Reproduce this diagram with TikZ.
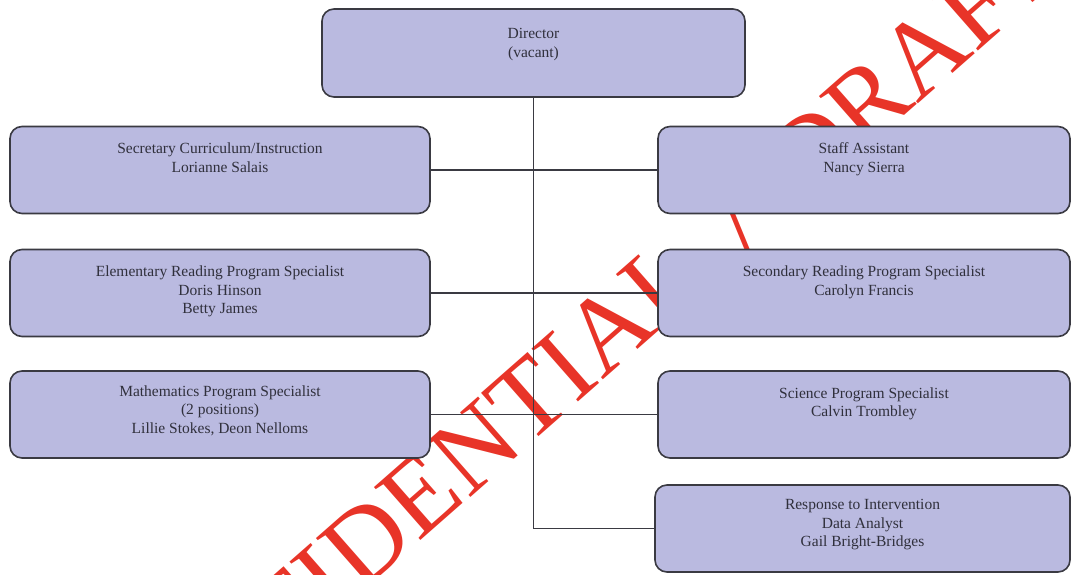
\documentclass[tikz,border=0pt]{standalone}
\usepackage{fontspec}
\setmainfont{Liberation Serif}
\definecolor{boxfill}{RGB}{186,186,224}
\definecolor{boxline}{RGB}{58,58,66}
\definecolor{ink}{RGB}{48,48,60}
\definecolor{stamp}{RGB}{232,52,40}
\pgfdeclarelayer{stamplayer}
\pgfdeclarelayer{edgelayer}
\pgfsetlayers{stamplayer,edgelayer,main}
\tikzset{
  orgbox/.style={draw=boxline, line width=1.6pt, fill=boxfill, rounded corners=12pt,
                 minimum width=420pt, minimum height=87pt, inner sep=0pt},
  orgtext/.style={anchor=north, align=center, inner sep=0pt, text=ink,
                  font=\fontsize{15.5}{18.5}\selectfont},
  link/.style={draw=boxline, line width=1.1pt}
}
\begin{document}
\begin{tikzpicture}[x=1pt,y=-1pt]
\useasboundingbox (0,0) rectangle (1072,574);

% boxes
\node[orgbox, minimum width=423pt, minimum height=88pt] (dir) at (533.5,53) {};
\node[orgbox] (sec)   at (220,170)   {};
\node[orgbox, minimum width=412pt] (staff) at (864,170)   {};
\node[orgbox] (elem)  at (220,293)   {};
\node[orgbox, minimum width=412pt] (rdg)   at (864,293) {};
\node[orgbox] (math)  at (220,414.5) {};
\node[orgbox, minimum width=412pt] (sci)   at (864,414.5)   {};
\node[orgbox, minimum width=415pt] (rti)   at (862.5,528.5) {};

% box texts
\node[orgtext] (dirT)   at ([yshift=-20pt]dir.north)   {Director\\(vacant)};
\node[orgtext] (secT)   at ([yshift=-17pt]sec.north)   {Secretary Curriculum/Instruction\\Lorianne Salais};
\node[orgtext] (staffT) at ([yshift=-17pt]staff.north) {Staff Assistant\\Nancy Sierra};
\node[orgtext] (elemT)  at ([yshift=-17pt]elem.north)  {Elementary Reading Program Specialist\\Doris Hinson\\Betty James};
\node[orgtext] (rdgT)   at ([yshift=-17pt]rdg.north)   {Secondary Reading Program Specialist\\Carolyn Francis};
\node[orgtext] (mathT)  at ([yshift=-15pt]math.north)  {Mathematics Program Specialist\\(2 positions)\\Lillie Stokes, Deon Nelloms};
\node[orgtext] (sciT)   at ([yshift=-17pt]sci.north)   {Science Program Specialist\\Calvin Trombley};
\node[orgtext] (rtiT)   at ([yshift=-15pt]rti.north)   {Response to Intervention\\Data Analyst\\Gail Bright-Bridges};

% connectors
\begin{pgfonlayer}{edgelayer}
  \draw[link] (dir.south) -- (dir.south |- rti.west) -- (rti.west);
  \draw[link] (sec.east)  -- (staff.west);
  \draw[link] (elem.east) -- (rdg.west);
  \draw[link] (math.east) -- (sci.west);
\end{pgfonlayer}

% stamp across the chart
\begin{pgfonlayer}{stamplayer}
  \node[text=stamp, rotate=41.3, inner sep=0pt, font=\fontsize{107.5}{107.5}\selectfont]
    (stampT) at (571,362) {CONFIDENTIAL\hspace{0.45em}/\hspace{0.45em}DRAFT};
\end{pgfonlayer}
\end{tikzpicture}
\end{document}
